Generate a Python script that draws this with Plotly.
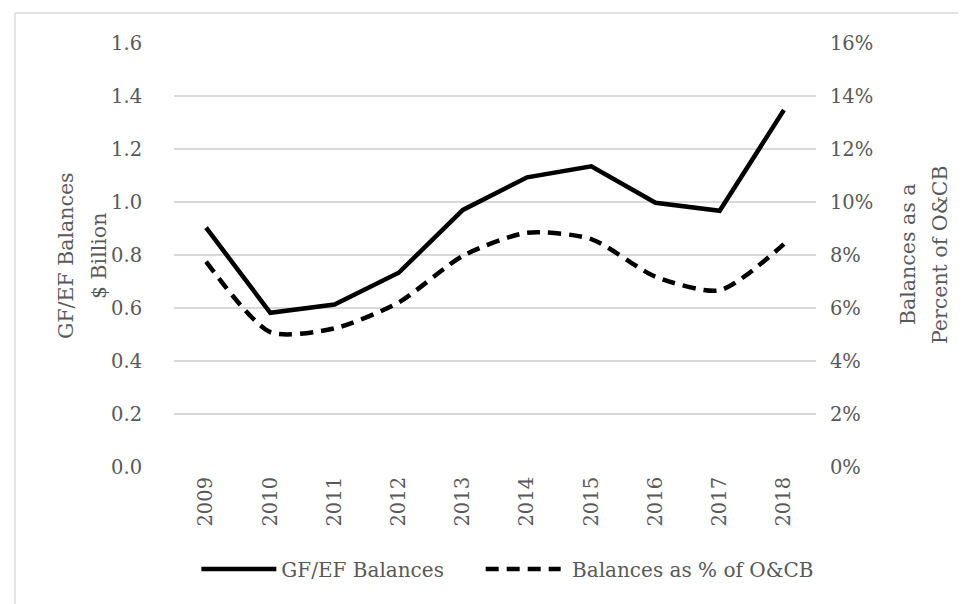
import plotly.graph_objects as go

years = ["2009", "2010", "2011", "2012", "2013", "2014", "2015", "2016", "2017", "2018"]
balances = [0.903, 0.582, 0.613, 0.733, 0.970, 1.093, 1.135, 0.997, 0.967, 1.347]
pct_ocb = [0.0775, 0.0509, 0.0523, 0.0621, 0.0797, 0.0884, 0.0860, 0.0718, 0.0667, 0.0841]

left_ticks = [0, 0.2, 0.4, 0.6, 0.8, 1.0, 1.2, 1.4, 1.6]
right_ticks = [0, 0.02, 0.04, 0.06, 0.08, 0.10, 0.12, 0.14, 0.16]

FONT = "DejaVu Serif"
GRAY = "#595959"
GRID = "#d9d9d9"
FS = 19.5
FS_T = 20.5
FS_L = 20

W, H = 966, 604
L, R, T, B = 166, 158, 35, 145
pw, ph = W - L - R, H - T - B


def px(x):
    return (x - L) / pw


def py(y):
    return (H - B - y) / ph


NB = "\u00a0"

fig = go.Figure()
fig.add_trace(go.Scatter(
    x=years, y=balances, name="GF/EF Balances" + NB * 5, mode="lines",
    line=dict(color="black", width=4.5),
))
fig.add_trace(go.Scatter(
    x=years, y=pct_ocb, name=NB + "Balances as % of O&CB", mode="lines",
    line=dict(color="black", width=4.5, dash="13px,8px", shape="spline", smoothing=0.7),
    yaxis="y2",
))

fig.update_layout(
    width=W, height=H,
    margin=dict(l=L, r=R, t=T, b=B),
    paper_bgcolor="white", plot_bgcolor="white",
    font=dict(family=FONT, size=FS, color=GRAY),
    xaxis=dict(
        type="category", range=[-0.5, len(years) - 0.5],
        tickangle=-90, showgrid=False, showline=False, zeroline=False,
        ticks="", ticklabelstandoff=5,
        tickfont=dict(family=FONT, size=FS, color=GRAY),
    ),
    yaxis=dict(
        range=[0, 1.6], tickvals=left_ticks, tickformat=".1f",
        showgrid=True, gridcolor=GRID, gridwidth=1.5, zeroline=False, showline=False,
        ticks="outside", ticklen=27, tickcolor="rgba(0,0,0,0)",
        tickfont=dict(family=FONT, size=FS, color=GRAY),
    ),
    yaxis2=dict(
        range=[0, 0.16], tickvals=right_ticks, tickformat=".0%",
        overlaying="y", side="right", showgrid=False, zeroline=False, showline=False,
        ticks="outside", ticklen=9, tickcolor="rgba(0,0,0,0)",
        tickfont=dict(family=FONT, size=FS, color=GRAY),
    ),
    legend=dict(
        orientation="h", x=0.52, xanchor="center", y=py(561), yanchor="middle",
        font=dict(family=FONT, size=FS_L, color=GRAY), bgcolor="rgba(0,0,0,0)",
        itemwidth=75, traceorder="normal",
    ),
    showlegend=True,
)

annots = [
    ("GF/EF Balances", 58, 248),
    ("$ Billion", 91, 248),
    ("Balances as a", 900, 247),
    ("Percent of O&CB", 932, 247),
]
for txt, ax, ay in annots:
    fig.add_annotation(
        text=txt, x=px(ax), y=py(ay), xref="paper", yref="paper",
        xanchor="center", yanchor="middle", textangle=-90, showarrow=False,
        font=dict(family=FONT, size=FS_T, color=GRAY),
    )

fig.add_shape(type="line", xref="paper", yref="paper",
              x0=px(7), x1=px(966), y0=py(5), y1=py(5), line=dict(color=GRID, width=1.3))
fig.add_shape(type="line", xref="paper", yref="paper",
              x0=px(7), x1=px(7), y0=py(5), y1=py(604), line=dict(color=GRID, width=1.3))

fig.write_html("out.html")
